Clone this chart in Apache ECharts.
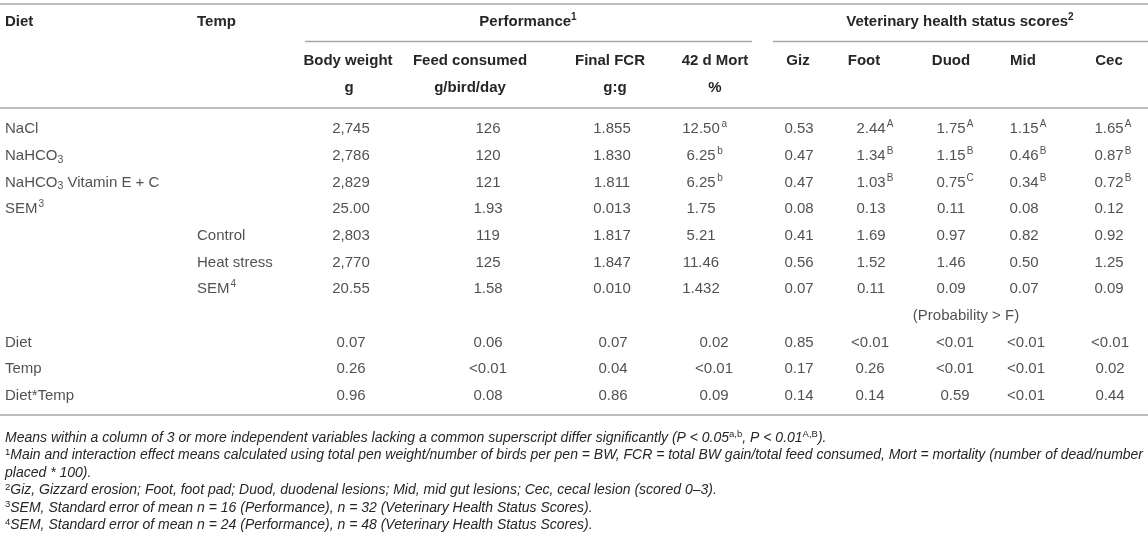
<!DOCTYPE html>
<html>
<head>
<meta charset="utf-8">
<script src="https://cdn.jsdelivr.net/npm/echarts@6/dist/echarts.min.js"></script>
<style>
  html, body { margin: 0; padding: 0; background: #fff; }
  #chart { width: 1148px; height: 549px; }
</style>
</head>
<body>
<div id="chart"></div>
<script>
// table body rows, top to bottom
const rows = ['NaCl', 'NaHCO3', 'NaHCO3 Vitamin E + C', 'SEM3', 'Control', 'Heat stress', 'SEM4',
  'Probability', 'Diet', 'Temp', 'Diet*Temp'];
const dietLabels = ['NaCl', 'NaHCO3', 'NaHCO3 Vitamin E + C', 'SEM3', '', '', '', '', 'Diet', 'Temp', 'Diet*Temp'];
const tempLabels = ['', '', '', '', 'Control', 'Heat stress', 'SEM4', '', '', '', ''];

// performance
const bodyWeight = ['2,745', '2,786', '2,829', '25.00', '2,803', '2,770', '20.55', '', '0.07', '0.26', '0.96'];
const feedConsumed = ['126', '120', '121', '1.93', '119', '125', '1.58', '', '0.06', '<0.01', '0.08'];
const finalFcr = ['1.855', '1.830', '1.811', '0.013', '1.817', '1.847', '0.010', '', '0.07', '0.04', '0.86'];
const mort = ['12.50', '6.25', '6.25', '1.75', '5.21', '11.46', '1.432', '', '0.02', '<0.01', '0.09'];
const mortSup = ['a', 'b', 'b', '', '', '', '', '', '', '', ''];

// veterinary health status scores
const giz = ['0.53', '0.47', '0.47', '0.08', '0.41', '0.56', '0.07', '', '0.85', '0.17', '0.14'];
const foot = ['2.44', '1.34', '1.03', '0.13', '1.69', '1.52', '0.11', '', '<0.01', '0.26', '0.14'];
const footSup = ['A', 'B', 'B', '', '', '', '', '', '', '', ''];
const duod = ['1.75', '1.15', '0.75', '0.11', '0.97', '1.46', '0.09', '', '<0.01', '<0.01', '0.59'];
const duodSup = ['A', 'B', 'C', '', '', '', '', '', '', '', ''];
const mid = ['1.15', '0.46', '0.34', '0.08', '0.82', '0.50', '0.07', '', '<0.01', '<0.01', '<0.01'];
const midSup = ['A', 'B', 'B', '', '', '', '', '', '', '', ''];
const cec = ['1.65', '0.87', '0.72', '0.12', '0.92', '1.25', '0.09', '', '<0.01', '0.02', '0.44'];
const cecSup = ['A', 'B', 'B', '', '', '', '', '', '', '', ''];

const headTop = ['Performance', 'Veterinary health status scores'];
const headTopSup = ['1', '2'];
const headCols = ['Body weight', 'Feed consumed', 'Final FCR', '42 d Mort', 'Giz', 'Foot', 'Duod', 'Mid', 'Cec'];
const headUnits = ['g', 'g/bird/day', 'g:g', '%'];
const probLabel = '(Probability > F)';

const footnotes = [
  'Means within a column of 3 or more independent variables lacking a common superscript differ significantly (P < 0.05{s|a,b}, P < 0.01{s|A,B}).',
  '{s|1}Main and interaction effect means calculated using total pen weight/number of birds per pen = BW, FCR = total BW gain/total feed consumed, Mort = mortality (number of dead/number',
  'placed * 100).',
  '{s|2}Giz, Gizzard erosion; Foot, foot pad; Duod, duodenal lesions; Mid, mid gut lesions; Cec, cecal lesion (scored 0–3).',
  '{s|3}SEM, Standard error of mean n = 16 (Performance), n = 32 (Veterinary Health Status Scores).',
  '{s|4}SEM, Standard error of mean n = 24 (Performance), n = 48 (Veterinary Health Status Scores).'
];

// layout
const W = 1148;
const FONT = 'Liberation Sans, Arial, Helvetica, sans-serif';
const INK = '#262626';
const RULE = '#a9a9a9';
const colX = [351, 488, 612, 701, 799, 871, 951, 1024, 1109];
const colXp = [351, 488, 613, 714, 799, 870, 955, 1026, 1110];
const headX = [348, 470, 610, 715, 798, 864, 951, 1023, 1109];
const unitX = [349, 470, 615, 715];
const rowTop = 129, rowStep = 26.7;

const valueCols = [bodyWeight, feedConsumed, finalFcr, mort, giz, foot, duod, mid, cec];
const supCols = [null, null, null, mortSup, null, footSup, duodSup, midSup, cecSup];

const rich = {
  n: { fontSize: 15, fontFamily: FONT, color: INK, lineHeight: 19 },
  s: { fontSize: 10, fontFamily: FONT, color: INK, lineHeight: 12, verticalAlign: 'top', width: 7, padding: [0, 0, 0, 1] },
  p: { width: 8 },
  sub: { fontSize: 10.5, fontFamily: FONT, color: INK, lineHeight: 10, verticalAlign: 'bottom' }
};

function toRich(t) {
  return '{n|' + t.replace(/CO3/g, 'CO}{sub|3}{n|').replace(/SEM(\d)/g, 'SEM}{s|$1}{n|') + '}';
}

function labelSeries(texts, x, align) {
  return {
    type: 'scatter',
    symbolSize: 1,
    silent: true,
    itemStyle: { color: 'transparent' },
    data: texts.map((t, i) => ({ value: [x, rows[i]], text: t })).filter(d => d.text !== ''),
    label: {
      show: true,
      position: 'inside',
      align: align,
      formatter: p => toRich(p.data.text),
      rich: rich
    }
  };
}

const series = valueCols.map((vals, c) => ({
  type: 'scatter',
  symbolSize: 1,
  silent: true,
  itemStyle: { color: 'transparent' },
  data: vals
    .map((v, i) => ({
      value: [i >= 8 ? colXp[c] : colX[c], rows[i]],
      text: v,
      sup: supCols[c] ? supCols[c][i] : ''
    }))
    .filter(d => d.text !== ''),
  label: {
    show: true,
    position: 'inside',
    formatter: p => p.data.sup
      ? '{p|}{n|' + p.data.text + '}{s|' + p.data.sup + '}'
      : '{n|' + p.data.text + '}',
    rich: rich
  }
}));
series.push(labelSeries(dietLabels, 5, 'left'));
series.push(labelSeries(tempLabels, 197, 'left'));
series.push(labelSeries(rows.map(r => (r === 'Probability' ? probLabel : '')), 966, 'center'));

// header and footnote graphics
const boldRich = {
  b: { fontSize: 15, fontWeight: 'bold', fontFamily: FONT, fill: INK, color: INK, lineHeight: 19 },
  bs: { fontSize: 10, fontWeight: 'bold', fontFamily: FONT, fill: INK, color: INK, lineHeight: 12, verticalAlign: 'top' }
};

function headText(text, x, y, align) {
  return {
    type: 'text',
    x: x,
    y: y,
    silent: true,
    style: {
      text: text,
      font: 'bold 15px ' + FONT,
      fill: INK,
      textAlign: align || 'center',
      align: align || 'center',
      textVerticalAlign: 'middle',
      verticalAlign: 'middle'
    }
  };
}

function rule(x1, x2, y) {
  return {
    type: 'line',
    silent: true,
    shape: { x1: x1, y1: y, x2: x2, y2: y },
    style: { stroke: RULE, lineWidth: 1.5 }
  };
}

const graphics = [
  rule(0, W, 4),
  rule(305, 752, 41.5),
  rule(773, W, 41.5),
  rule(0, W, 108),
  rule(0, W, 415),
  headText('Diet', 5, 22, 'left'),
  headText('Temp', 197, 22, 'left')
];
[528, 960].forEach((x, k) => {
  graphics.push({
    type: 'text',
    x: x,
    y: 22,
    silent: true,
    style: {
      text: '{b|' + headTop[k] + '}{bs|' + headTopSup[k] + '}',
      rich: boldRich,
      fill: INK,
      textAlign: 'center',
      align: 'center',
      textVerticalAlign: 'middle',
      verticalAlign: 'middle'
    }
  });
});
headCols.forEach((t, c) => graphics.push(headText(t, headX[c], 61)));
headUnits.forEach((t, c) => graphics.push(headText(t, unitX[c], 88)));

const noteRich = {
  t: { fontSize: 14, fontStyle: 'italic', fontFamily: FONT, fill: INK, color: INK, lineHeight: 17 },
  s: { fontSize: 9.5, fontFamily: FONT, fill: INK, color: INK, lineHeight: 10, verticalAlign: 'top' }
};

// keep the justified second note line inside the table width
const measure = document.createElement('canvas').getContext('2d');
measure.font = 'italic 14px ' + FONT;
const wideLine = footnotes[1].replace(/\{s\|[^}]*\}/g, '');
const wideSize = Math.min(14, 14 * 1134 / measure.measureText(wideLine).width);

footnotes.forEach((t, k) => {
  const r = k === 1
    ? { t: Object.assign({}, noteRich.t, { fontSize: wideSize }), s: noteRich.s }
    : noteRich;
  const parts = t.split(/(\{s\|[^}]*\})/).filter(x => x !== '')
    .map(x => (x.startsWith('{s|') ? x : '{t|' + x + '}')).join('');
  graphics.push({
    type: 'text',
    x: 5,
    y: 438 + k * 17.5,
    silent: true,
    style: {
      text: parts,
      rich: r,
      fill: INK,
      textAlign: 'left',
      align: 'left',
      textVerticalAlign: 'middle',
      verticalAlign: 'middle'
    }
  });
});

const chart = echarts.init(document.getElementById('chart'), null, { renderer: 'canvas' });
chart.setOption({
  animation: false,
  backgroundColor: '#fff',
  grid: { left: 0, right: 0, top: rowTop - rowStep / 2, height: rowStep * rows.length },
  xAxis: { type: 'value', min: 0, max: W, show: false },
  yAxis: { type: 'category', data: rows, inverse: true, show: false },
  series: series,
  graphic: graphics
});
</script>
</body>
</html>
